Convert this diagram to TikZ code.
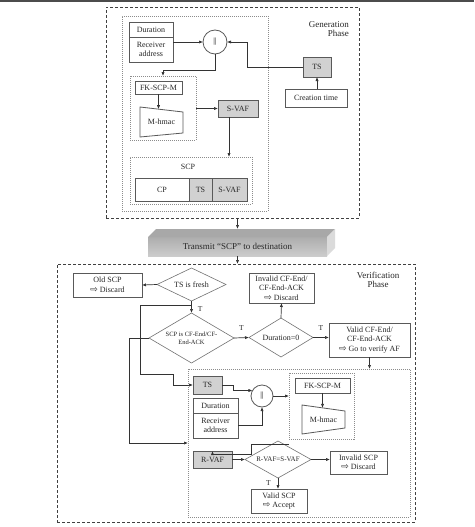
\documentclass[tikz,border=0pt]{standalone}
\usepackage{fontspec}
\setmainfont{Liberation Serif}
\newfontfamily\arrowfont{DejaVu Sans}
\usetikzlibrary{shapes.geometric,arrows.meta,positioning}
\newcommand{\wharr}{{\arrowfont\fontsize{9}{9.5}\selectfont ⇨}}

\tikzset{
  arr/.style={-{Latex[length=4pt,width=3.2pt]}, line width=0.7pt, draw=black!80},
  dims/.style 2 args={minimum width=#1pt, minimum height=#2pt},
  box/.style={draw=black!65, line width=0.8pt, fill=white, inner sep=1pt, outer sep=0pt,
    align=center, font=\fontsize{8}{9.5}\selectfont, text=black!85},
  graybox/.style={box, fill=black!18},
  dia/.style={diamond, aspect=2, draw=black!55, line width=0.6pt, fill=white, inner sep=0pt,
    outer sep=0pt, align=center, font=\fontsize{8}{9.5}\selectfont, text=black!85},
  joinc/.style={circle, draw=black!65, line width=0.8pt, fill=white, inner sep=0pt, outer sep=0pt,
    font=\fontsize{8}{9.5}\selectfont},
  phasebox/.style={draw=black!75, line width=0.8pt, dash pattern=on 3pt off 2pt, inner sep=0pt, outer sep=0pt},
  groupbox/.style={draw=black!45, line width=0.6pt, dash pattern=on 1pt off 1pt, inner sep=0pt, outer sep=0pt},
  lbl/.style={font=\fontsize{7.5}{9}\selectfont, text=black!85, inner sep=1pt},
  phaselbl/.style={font=\fontsize{9}{9.5}\selectfont, text=black!85, inner sep=0pt},
  hmacline/.style={draw=black!65, line width=0.8pt}
}

\begin{document}
\begin{tikzpicture}[x=1pt,y=1pt,yscale=-1]
\useasboundingbox (0,0) rectangle (474,527);

% top rule
\draw[black!70, line width=1.2pt] (0,1) -- (474,1);

%% Generation phase
\node[phasebox, dims={253}{211}] (genphase) at (232.5,112.5) {};
\node[groupbox, dims={146}{195}] (geninner) at (195,113.5) {};
\node[phaselbl, align=right, anchor=east] (genlbl) at (349,29) {Generation\\Phase};

\node[box, dims={44}{15}] (dur) at (151,29.5) {Duration};
\node[box, dims={44}{25}, below=0pt of dur] (recv) {Receiver\\address};
\node[joinc, minimum size=24pt] (cat) at (215,42) {||};
\node[graybox, dims={28}{20}] (ts) at (317,67) {TS};
\node[box, dims={62}{18}] (ctime) at (316,98) {Creation time};

\node[groupbox, dims={66}{64}] (fkframe) at (163,108) {};
\node[box, dims={47}{13}] (fk) at (158.5,87.5) {FK-SCP-M};
% M-hmac block
\draw[hmacline] (140,107) -- (183,112) -- (183,133) -- (140,137) -- cycle;
\node[lbl, font=\fontsize{8}{9.5}\selectfont] (hmac) at (161.5,122) {M-hmac};
\coordinate (hmactop) at (158.5,109.2);

\node[graybox, dims={40}{17}] (svaf) at (238,108.5) {S-VAF};
\coordinate (svafout) at ([xshift=-9pt]svaf.south);

\node[groupbox, dims={122}{47}] (scpframe) at (191,180.5) {};
\node[lbl, font=\fontsize{8}{9.5}\selectfont] (scplbl) at (188,167) {SCP};
\node[box, dims={54}{23}] (cp) at (162,189.5) {CP};
\node[graybox, dims={23}{23}, right=0pt of cp] (ts2) {TS};
\node[graybox, dims={35}{23}, right=0pt of ts2] (svaf2) {S-VAF};

\draw[arr] (recv.east |- cat.west) -- (cat.west);
\draw[arr] (ts.west) -- ++(-56,0) |- (cat.east);
\draw[arr] (ctime.north -| ts.south) -- (ts.south);
\draw[arr] (cat.south) -- ++(0,16) -| (fkframe.north);
\draw[arr] (fk.south -| hmactop) -- (hmactop);
\draw[arr] (fkframe.east |- svaf.west) -- (svaf.west);
\draw[arr] (svafout) -- (svafout |- scpframe.north);

%% Transmit slab
\node[dims={179}{19}, inner sep=0pt, outer sep=0pt, top color=black!32, bottom color=black!20,
  font=\fontsize{9}{10}\selectfont, text=black!85] (tx) at (237.5,246.5) {Transmit “SCP” to destination};
\fill[black!34] (tx.north west) -- ++(8,-8) -- ++(179,0) -- (tx.north east) -- cycle;
\fill[black!14] (tx.north east) -- ++(8,-8) -- ++(0,19) -- (tx.south east) -- cycle;
\coordinate (slabtop) at (237.5,229);

%% Verification phase
\node[phasebox, dims={358}{258}] (verphase) at (236,393) {};
\node[phaselbl, align=center] (verlbl) at (378,280) {Verification\\Phase};

\draw[arr] (genphase.south -| slabtop) -- (slabtop);
\draw[arr] (tx.south) -- (tx.south |- verphase.north);

\node[box, dims={69}{24}] (old) at (107.5,285) {Old SCP\\\wharr{} Discard};
\node[dia, dims={69}{33}] (fresh) at (191.5,284.5) {TS is fresh};
\coordinate (fork) at (191.5,305);
\node[dia, dims={85}{50}, font=\fontsize{6.5}{8}\selectfont] (cfend) at (191.5,338) {SCP is CF-End/CF-\\End-ACK};
\node[dia, dims={64}{39}] (dur0) at (281,337.5) {Duration=0};
\node[box, dims={65}{30}] (invcf) at (281.5,288) {Invalid CF-End/\\CF-End-ACK\\\wharr{} Discard};
\node[box, dims={81}{34}] (valcf) at (369.5,340) {Valid CF-End/\\CF-End-ACK\\\wharr{} Go to verify AF};

\node[groupbox, dims={222}{148}] (verinner) at (299,443) {};
\node[graybox, dims={29}{18}] (ts3) at (207.5,385) {TS};
\node[joinc, minimum size=22pt] (cat2) at (262,396) {||};
\node[box, dims={45}{15}] (dur2) at (215.5,405.5) {Duration};
\node[box, dims={45}{25}, below=0pt of dur2] (recv2) {Receiver\\address};

\node[groupbox, dims={65}{66}] (fkframe2) at (321.5,406) {};
\node[box, dims={55}{15}] (fk2) at (322.5,385.5) {FK-SCP-M};
% M-hmac block
\draw[hmacline] (302,405) -- (345,411) -- (345,428) -- (302,434) -- cycle;
\node[lbl, font=\fontsize{8}{9.5}\selectfont] (hmac2) at (323.5,419.5) {M-hmac};
\coordinate (hmactop2) at (322.5,407.9);

\node[graybox, dims={39}{17}] (rvaf) at (212.5,459.5) {R-VAF};
\node[dia, dims={66}{37}, font=\fontsize{7}{8}\selectfont] (vcmp) at (278,459.5) {R-VAF=S-VAF};
\node[box, dims={57}{23}] (invscp) at (358.5,462.5) {Invalid SCP\\\wharr{} Discard};
\node[box, dims={56}{24}] (valscp) at (279,501) {Valid SCP\\\wharr{} Accept};

\draw[arr] (fresh.west) -- (old.east);
\draw[line width=0.7pt, draw=black!80] (fresh.south) -- (fork);
\draw[arr] (fork) -- (cfend.north) node[lbl, midway, right=5pt] (t1) {T};
\draw[arr] (fork) -| (140,374) -- (173,374) |- (ts3.west);
\draw[arr] (cfend.west) -- ++(-20,0) |- (verinner.west);
\draw[arr] (cfend.east) -- (dur0.west) node[lbl, midway, above=6pt] (t2) {T};
\draw[arr] (dur0.north) -- (invcf.south);
\draw[arr] (dur0.east) -- (dur0.east -| valcf.west) node[lbl, midway, above=6pt] (t3) {T};
\draw[arr] (valcf.south) -- (valcf.south |- verinner.north);

\draw[arr] (ts3.east) -- ++(11,0) |- (cat2.150);
\draw[arr] (recv2.east) -| (cat2.south);
\draw[arr] (cat2.east) -- (cat2.east -| fkframe2.west);
\draw[arr] (fk2.south -| hmactop2) -- (hmactop2);
\draw[arr] ([yshift=5pt]fkframe2.south west) -- ++(-38,0) -- ++(0,10) -| (rvaf.north);
\draw[arr] (rvaf.east) -- (vcmp.west);
\draw[arr] (vcmp.east) -- (vcmp.east -| invscp.west);
\draw[arr] (vcmp.south) -- (vcmp.south |- valscp.north) node[lbl, midway, left=6pt] (t4) {T};

\end{tikzpicture}
\end{document}
